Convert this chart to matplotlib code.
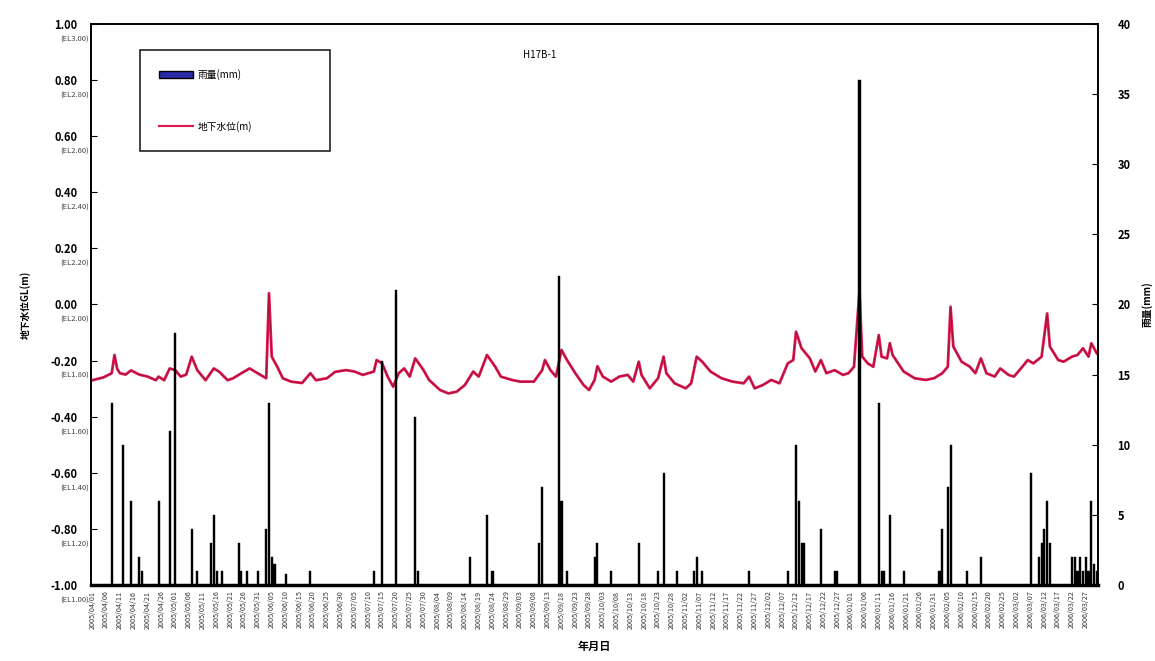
import matplotlib
matplotlib.use("Agg")
import matplotlib.pyplot as plt
from matplotlib.patches import Patch
from matplotlib.lines import Line2D
import matplotlib.transforms as mtransforms
import pandas as pd

plt.rcParams['font.family'] = ['Noto Sans CJK JP', 'DejaVu Sans']

# daily rainfall (day index from 2005/4/1, mm)
rain_day = [7, 11, 14, 17, 18, 24, 28, 30, 36, 38, 43, 44, 45, 47, 53, 54, 56, 60,
            63, 64, 65, 66, 70, 79, 102, 105, 110, 117, 118, 137, 143, 145, 162, 163,
            169, 170, 172, 182, 183, 188, 198, 205, 207, 212, 218, 219, 221, 238, 252,
            255, 256, 257, 258, 264, 269, 270, 278, 285, 286, 287, 289, 294, 307, 308,
            310, 311, 317, 322, 340, 343, 344, 345, 346, 347, 355, 356, 357, 358, 359,
            360, 361, 362, 363, 364]
rain_mm = [13, 10, 6, 2, 1, 6, 11, 18, 4, 1, 3, 5, 1, 1, 3, 1, 1, 1,
           4, 13, 2, 1.5, 0.8, 1, 1, 16, 21, 12, 1, 2, 5, 1, 3, 7,
           22, 6, 1, 2, 3, 1, 3, 1, 8, 1, 1, 2, 1, 1, 1,
           10, 6, 3, 3, 4, 1, 1, 36, 13, 1, 1, 5, 1, 1, 4,
           7, 10, 1, 2, 8, 2, 3, 4, 6, 3, 2, 2, 1, 2, 1,
           2, 1, 6, 1.5, 1]

# groundwater level GL(m)
gw_day = [0, 4, 7, 8, 9, 10, 12, 14, 17, 20, 23, 24, 26, 28, 30, 32, 34, 36, 38, 41,
          44, 46, 49, 51, 54, 57, 59, 63, 64, 65, 67, 69, 72, 76, 79, 81, 85, 88, 92,
          95, 98, 102, 103, 105, 107, 109, 111, 113, 115, 117, 120, 122, 126, 129, 132,
          135, 138, 140, 143, 146, 148, 152, 155, 160, 163, 164, 166, 168, 170, 172,
          175, 178, 180, 182, 183, 185, 188, 191, 194, 196, 198, 199, 202, 205, 207,
          208, 211, 215, 217, 219, 221, 224, 228, 232, 236, 238, 240, 243, 246, 249,
          252, 254, 255, 257, 260, 262, 264, 266, 269, 272, 274, 276, 278, 279, 281,
          283, 285, 286, 288, 289, 290, 292, 294, 298, 302, 305, 308, 310, 311, 312,
          315, 318, 320, 322, 324, 327, 329, 332, 334, 337, 339, 341, 344, 346, 347,
          350, 352, 355, 357, 359, 361, 362, 364]
gw_level = [-0.27, -0.26, -0.245, -0.18, -0.23, -0.245, -0.25, -0.235, -0.25, -0.257,
            -0.27, -0.257, -0.27, -0.228, -0.234, -0.257, -0.25, -0.186, -0.234, -0.27,
            -0.228, -0.24, -0.27, -0.263, -0.245, -0.228, -0.24, -0.263, 0.04, -0.186,
            -0.222, -0.263, -0.275, -0.28, -0.245, -0.27, -0.263, -0.24, -0.234,
            -0.239, -0.251, -0.239, -0.198, -0.21, -0.257, -0.293, -0.245, -0.228,
            -0.257, -0.192, -0.234, -0.269, -0.305, -0.317, -0.311, -0.287, -0.239,
            -0.257, -0.18, -0.222, -0.257, -0.269, -0.275, -0.275, -0.234, -0.198,
            -0.234, -0.257, -0.162, -0.198, -0.245, -0.287, -0.305, -0.269, -0.22,
            -0.257, -0.275, -0.257, -0.251, -0.275, -0.204, -0.251, -0.299, -0.263,
            -0.186, -0.245, -0.281, -0.299, -0.281, -0.186, -0.204, -0.239, -0.263,
            -0.275, -0.281, -0.257, -0.299, -0.287, -0.269, -0.281, -0.21, -0.198,
            -0.097, -0.156, -0.192, -0.239, -0.198, -0.245, -0.234, -0.251, -0.245,
            -0.222, 0.05, -0.186, -0.21, -0.222, -0.109, -0.186, -0.192, -0.138, -0.18,
            -0.21, -0.239, -0.263, -0.269, -0.263, -0.245, -0.222, -0.008, -0.15,
            -0.204, -0.222, -0.245, -0.192, -0.245, -0.257, -0.228, -0.251, -0.257,
            -0.222, -0.198, -0.21, -0.186, -0.032, -0.15, -0.198, -0.204, -0.186,
            -0.18, -0.156, -0.186, -0.138, -0.174]

# axis labels
left_ticks = [1.00, 0.80, 0.60, 0.40, 0.20, 0.00, -0.20, -0.40, -0.60, -0.80, -1.00]
el_labels = ["(EL3.00)", "(EL2.80)", "(EL2.60)", "(EL2.40)", "(EL2.20)", "(EL2.00)",
             "(EL1.80)", "(EL1.60)", "(EL1.40)", "(EL1.20)", "(EL1.00)"]
right_ticks = [0, 5, 10, 15, 20, 25, 30, 35, 40]
date_ticks = list(range(0, 365, 5))
date_labels = [d.strftime("%Y/%m/%d")
               for d in pd.date_range("2005-04-01", periods=73, freq="5D")]

fig = plt.figure(figsize=(11.55, 6.61), dpi=100)
ax = fig.add_axes([0.0788, 0.115, 0.872, 0.8487])
ax2 = ax.twinx()

# groundwater line on left axis
ax.plot(gw_day, gw_level, color="#e3174f", lw=2.0, solid_joinstyle="round")
ax.plot(gw_day, gw_level, color="#6a1030", lw=0.6, alpha=0.6)
ax.set_ylim(-1.0, 1.0)
ax.set_xlim(-0.5, 364.5)
ax.set_yticks(left_ticks)
ax.set_yticklabels([f"{v:.2f}" for v in left_ticks], fontsize=8, fontweight="bold")
ax.tick_params(axis="y", direction="in", length=4, pad=10)
ax.set_xticks(date_ticks)
ax.set_xticklabels(date_labels, rotation=90, fontsize=5.2, color="#333333")
ax.tick_params(axis="x", length=0, pad=4)

trans = mtransforms.blended_transform_factory(ax.transAxes, ax.transData)
for v, lab in zip(left_ticks, el_labels):
    ax.text(-0.002, v - 0.055, lab, transform=trans, ha="right", va="center",
            fontsize=5.5, color="#444444")

# rainfall bars on right axis
ax2.bar(rain_day, rain_mm, width=0.75, color="black", edgecolor="black", linewidth=0.3)
ax2.set_ylim(0, 40)
ax2.set_yticks(right_ticks)
ax2.set_yticklabels([str(v) for v in right_ticks], fontsize=8, fontweight="bold")
ax2.tick_params(axis="y", direction="in", length=4, pad=14)

for a in (ax, ax2):
    for s in a.spines.values():
        s.set_linewidth(1.2)
ax.spines["bottom"].set_linewidth(2.5)

ax.set_ylabel("地下水位GL(m)", fontsize=7, fontweight="bold", labelpad=14)
ax2.set_ylabel("雨量(mm)", fontsize=7, fontweight="bold", labelpad=8)
ax.set_xlabel("年月日", fontsize=8, fontweight="bold", labelpad=8)

ax.text(0.445, 0.94, "H17B-1", transform=ax.transAxes, fontsize=7, ha="center")

handles = [Patch(facecolor="#2a2aa8", edgecolor="black", linewidth=1.0),
           Line2D([], [], color="#e3174f", lw=1.5)]
leg = ax2.legend(handles, ["雨量(mm)", "地下水位(m)"],
                 bbox_to_anchor=(0.0486, 0.766, 0.189, 0.188), loc="upper left",
                 mode="expand", fontsize=7, labelspacing=4.2, borderpad=2.0,
                 handlelength=3.5, handletextpad=0.4, fancybox=False,
                 edgecolor="#222222", framealpha=1, borderaxespad=0)
leg.get_frame().set_linewidth(1.2)

fig.savefig("out.png", dpi=100)
